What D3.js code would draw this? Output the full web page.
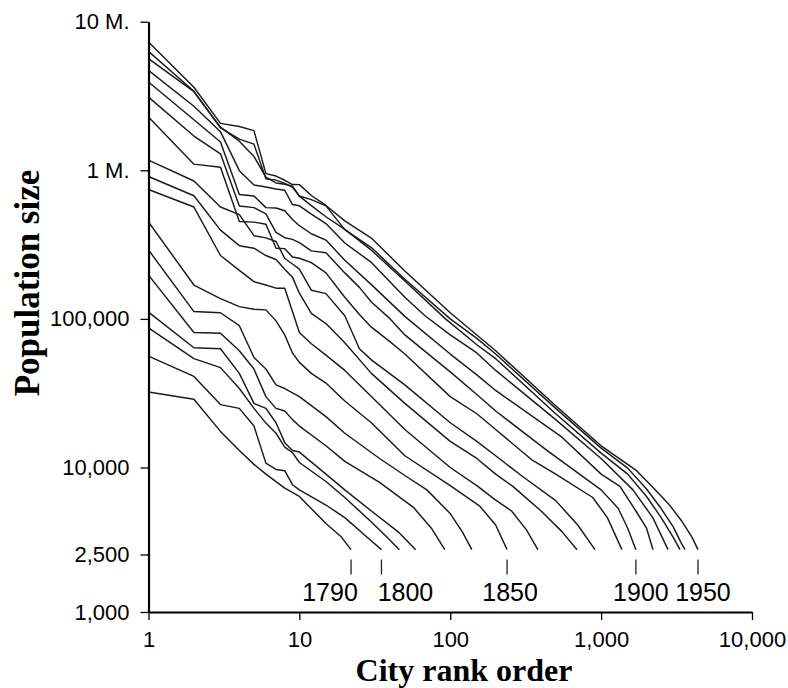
<!DOCTYPE html>
<html><head><meta charset="utf-8">
<script src="https://cdn.jsdelivr.net/npm/d3@7"></script>
<style>body{margin:0;background:#fff}</style>
</head><body>
<svg id="chart" width="788" height="688"></svg>
<script>
// ---- data: [rank, population] per census year ----
const years = [1790,1800,1810,1820,1830,1840,1850,1860,1870,1880,1890,1900,1910,1920,1930,1940,1950];
const c1790 = [[1,32200],[2,28800],[3,17500],[4,13000],[5,10500],[6,9000],[8,7200],[10,6300],[15,4100],[19,3300],[22,2700]];
const c1800 = [[1,56200],[2,41000],[3,26500],[4,25000],[5,19000],[6,10700],[7,9700],[8,9500],[9,7600],[10,7000],[15,5500],[20,4500],[28,3300],[35,2700]];
const c1810 = [[1,86900],[2,54000],[3,47000],[4,34000],[5,25000],[6,19900],[7,17000],[8,13700],[9,12600],[10,10800],[15,8000],[20,6200],[30,4200],[38,3300],[46,2700]];
const c1820 = [[1,111000],[2,64000],[3,63000],[4,43000],[5,27000],[6,25000],[7,20000],[8,14700],[9,13000],[10,12700],[15,9000],[20,7000],[30,5000],[45,3600],[59,2700]];
const c1830 = [[1,197000],[2,81000],[3,80000],[4,61000],[5,46000],[6,30000],[7,25000],[8,24000],[9,21000],[10,19000],[15,14000],[20,11000],[34,7900],[57,5300],[75,3800],[92,2700]];
const c1840 = [[1,291000],[2,112000],[3,110000],[4,90000],[5,55000],[6,46000],[7,36000],[8,34000],[10,30000],[15,22000],[20,17000],[34,11500],[50,8800],[70,7000],[100,4800],[120,3600],[139,2700]];
const c1850 = [[1,449000],[2,169000],[3,137000],[4,121000],[5,116000],[6,115000],[7,97000],[8,78000],[9,59000],[10,51000],[12,43000],[15,37000],[20,28000],[30,20000],[50,12000],[100,7500],[157,5400],[200,4000],[238,2700]];
const c1860 = [[1,743000],[2,566000],[3,267000],[4,212000],[5,178000],[6,169000],[7,161000],[8,161000],[9,112000],[10,81000],[12,68000],[15,57000],[20,45000],[30,30000],[50,18000],[100,10000],[150,7500],[198,6000],[255,5000],[320,3700],[381,2700]];
const c1870 = [[1,908000],[2,674000],[3,396000],[4,311000],[5,299000],[6,267000],[7,251000],[8,216000],[9,191000],[10,149000],[12,109000],[15,93000],[20,69000],[30,43000],[50,27000],[100,15000],[150,11500],[200,9000],[260,7400],[400,5000],[550,3600],[692,2700]];
const c1880 = [[1,1170000],[2,847000],[3,566000],[4,503000],[5,363000],[6,351000],[7,332000],[8,255000],[9,234000],[10,216000],[12,156000],[15,148000],[20,105000],[25,63000],[30,53000],[50,36000],[100,20000],[150,15000],[200,12000],[300,8700],[500,5900],[700,4000],[910,2700]];
const c1890 = [[1,2280000],[2,1100000],[3,1047000],[4,452000],[5,448000],[6,434000],[7,299000],[8,297000],[9,261000],[10,256000],[12,239000],[15,204000],[20,140000],[25,107000],[30,88000],[40,70000],[50,58000],[100,30000],[150,23000],[200,18000],[350,11200],[500,9000],[880,6200],[1100,4500],[1374,2700]];
const c1900 = [[1,3110000],[2,1700000],[3,1290000],[4,575000],[5,561000],[6,509000],[7,382000],[8,352000],[9,343000],[10,326000],[12,287000],[15,279000],[20,204000],[25,163000],[30,130000],[40,100000],[50,78000],[100,44000],[150,31000],[200,24000],[435,13100],[1000,7000],[1300,5200],[1500,3800],[1700,2700]];
const c1910 = [[1,3930000],[2,2190000],[3,1550000],[4,687000],[5,671000],[6,561000],[7,558000],[8,534000],[9,466000],[10,424000],[12,374000],[15,339000],[20,248000],[30,170000],[50,104000],[100,58000],[150,42000],[200,33000],[550,16000],[1000,9000],[1333,7400],[1700,5000],[2000,3800],[2208,2700]];
const c1920 = [[1,4700000],[2,2700000],[3,1820000],[4,994000],[5,797000],[6,773000],[7,748000],[8,734000],[9,588000],[10,577000],[12,507000],[15,438000],[20,324000],[30,240000],[50,140000],[68,105000],[100,78000],[150,59000],[200,45000],[500,21000],[1000,11500],[1625,7000],[2200,4500],[2776,2700]];
const c1930 = [[1,5650000],[2,3380000],[3,1950000],[4,1570000],[5,1240000],[6,900000],[7,822000],[8,805000],[9,781000],[10,670000],[12,578000],[15,487000],[20,400000],[30,290000],[50,180000],[93,100000],[150,67000],[200,54000],[500,23000],[1000,12500],[1500,9000],[2000,6300],[2500,4500],[3000,3300],[3333,2700]];
const c1940 = [[1,6310000],[2,3400000],[3,1930000],[4,1620000],[5,1500000],[6,878000],[7,859000],[8,816000],[9,771000],[10,672000],[12,635000],[15,576000],[20,399000],[30,302000],[50,185000],[100,100000],[150,74000],[200,58000],[500,25000],[1000,13500],[1500,9900],[2000,7100],[2500,5200],[3000,3900],[3400,3000],[3597,2700]];
const c1950 = [[1,7300000],[2,3620000],[3,2070000],[4,1970000],[5,1850000],[6,950000],[7,915000],[8,857000],[9,802000],[10,801000],[12,677000],[15,580000],[20,457000],[30,350000],[50,210000],[100,110000],[150,78000],[200,61000],[500,26000],[1000,14000],[1700,9600],[2200,7300],[2800,5600],[3400,4300],[4000,3300],[4384,2700]];

const labelledYears = [1790,1800,1850,1900,1950];
const yearLabelShift = [-21,24,3,5,5];
const yTickValues = [1000,2500,10000,100000,1000000,10000000];
const yTickLabels = ["1,000","2,500","10,000","100,000","1 M.","10 M."];
const xTickValues = [1,10,100,1000,10000];
const xTickLabels = ["1","10","100","1,000","10,000"];

const seriesList = [c1790,c1800,c1810,c1820,c1830,c1840,c1850,c1860,c1870,c1880,c1890,c1900,c1910,c1920,c1930,c1940,c1950];

// ---- drawing ----
const svg = d3.select("#chart");
const x = d3.scaleLog().domain([1, 10000]).range([148.5, 752]);
const y = d3.scaleLog().domain([1000, 10000, 10000000]).range([612, 467.5, 21.7]);

const line = d3.line().x(d => x(d[0])).y(d => y(d[1]));
svg.append("g").selectAll("path").data(seriesList).join("path")
  .attr("d", line).attr("fill", "none").attr("stroke", "#1a1a1a")
  .attr("stroke-width", 1.45).attr("stroke-linejoin", "round");

// y axis
const yAxis = d3.axisLeft(y).tickValues(yTickValues)
  .tickFormat((d, i) => yTickLabels[i]).tickSize(8).tickSizeOuter(0).tickPadding(11);
const gy = svg.append("g").attr("transform", `translate(${x(1)},0)`).call(yAxis);
gy.select(".domain").attr("stroke", "#000").attr("stroke-width", 2.2);
gy.selectAll(".tick line").attr("stroke", "#000").attr("stroke-width", 1.3);
gy.selectAll("text").attr("font-family", "'Liberation Sans', Arial, sans-serif")
  .attr("font-size", 22).attr("fill", "#000");

// x axis
const xAxis = d3.axisBottom(x).tickValues(xTickValues)
  .tickFormat((d, i) => xTickLabels[i]).tickSize(8).tickSizeOuter(0).tickPadding(11);
const gx = svg.append("g").attr("transform", `translate(0,${y(1000)})`).call(xAxis);
gx.select(".domain").attr("stroke", "#000").attr("stroke-width", 2.2);
gx.selectAll(".tick line").attr("stroke", "#000").attr("stroke-width", 1.3);
gx.selectAll("text").attr("font-family", "'Liberation Sans', Arial, sans-serif")
  .attr("font-size", 22).attr("fill", "#000");

// year markers at line ends
const yearMarks = labelledYears.map((yr, i) => {
  const s = seriesList[years.indexOf(yr)];
  return { yr, rank: s[s.length - 1][0], shift: yearLabelShift[i] };
});
const gm = svg.append("g");
gm.selectAll("line").data(yearMarks).join("line")
  .attr("x1", d => x(d.rank)).attr("x2", d => x(d.rank))
  .attr("y1", y(2500) + 5).attr("y2", y(2500) + 20)
  .attr("stroke", "#222").attr("stroke-width", 1.3);
gm.selectAll("text").data(yearMarks).join("text")
  .attr("x", d => x(d.rank) + d.shift).attr("y", y(2500) + 47)
  .attr("text-anchor", "middle")
  .attr("font-family", "'Liberation Sans', Arial, sans-serif")
  .attr("font-size", 25).attr("fill", "#000").text(d => d.yr);

// axis titles
svg.append("text").attr("x", 464).attr("y", 681).attr("text-anchor", "middle")
  .attr("font-family", "'Liberation Serif', 'Times New Roman', serif")
  .attr("font-weight", "bold").attr("font-size", 32).text("City rank order");
svg.append("text").attr("transform", "translate(39,283) rotate(-90)").attr("text-anchor", "middle")
  .attr("font-family", "'Liberation Serif', 'Times New Roman', serif")
  .attr("font-weight", "bold").attr("font-size", 35).text("Population size");
</script>
</body></html>
